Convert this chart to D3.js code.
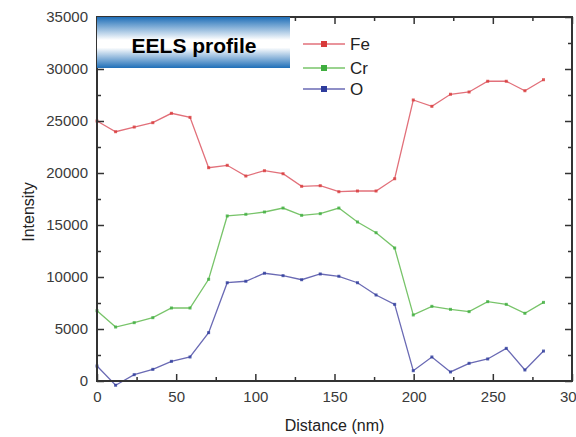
<!DOCTYPE html>
<html><head><meta charset="utf-8">
<script src="https://cdn.jsdelivr.net/npm/d3@7"></script>
<style>body{margin:0;background:#fff}svg{display:block}</style>
</head><body><svg id="c" width="576" height="437"></svg>
<script>
const distance = [0,11.75,23.5,35.25,47,58.75,70.5,82.25,94,105.75,117.5,129.25,141,152.75,164.5,176.25,188,199.75,211.5,223.25,235,246.75,258.5,270.25,282];
const fe = [25000,23970,24420,24840,25740,25350,20510,20740,19710,20220,19930,18720,18780,18200,18270,18270,19450,27020,26410,27570,27790,28820,28820,27910,28970];
const cr = [6760,5190,5610,6090,7020,7020,9780,15870,16030,16250,16630,15930,16090,16630,15290,14260,12790,6350,7180,6890,6670,7630,7370,6510,7560];
const o = [1440,-410,610,1120,1890,2310,4650,9450,9590,10360,10130,9740,10290,10070,9450,8270,7370,990,2310,870,1700,2120,3140,1060,2880];
const seriesNames = ["Fe","Cr","O"];
const xTicks = [0,50,100,150,200,250,300];
const yTicks = [0,5000,10000,15000,20000,25000,30000,35000];
const lineColors = ["#e2707a","#78c46a","#6a6ab4"];
const markColors = ["#d83a3a","#3fae3f","#2e3c9c"];

const svg = d3.select("#c");
const L=97, R=572, T=17, B=381;
const x = d3.scaleLinear().domain([0,300]).range([L,R]);
const y = d3.scaleLinear().domain([0,35000]).range([B,T]);
const data = [fe,cr,o];

const defs = svg.append("defs");
const g = defs.append("linearGradient").attr("id","tg").attr("x1",0).attr("y1",0).attr("x2",0).attr("y2",1);
g.append("stop").attr("offset","0%").attr("stop-color","#1f6fb8");
g.append("stop").attr("offset","45%").attr("stop-color","#ffffff");
g.append("stop").attr("offset","60%").attr("stop-color","#ffffff");
g.append("stop").attr("offset","100%").attr("stop-color","#1f6fb8");

const line = d3.line().x((d,i)=>x(distance[i])).y(d=>y(d));
data.forEach((s,k)=>{
  svg.append("path").attr("d",line(s)).attr("fill","none").attr("stroke",lineColors[k]).attr("stroke-width",1.3);
  svg.selectAll(null).data(s).enter().append("rect")
    .attr("x",(d,i)=>x(distance[i])-1.5).attr("y",d=>y(d)-1.5)
    .attr("width",3).attr("height",3).attr("fill",markColors[k]).attr("opacity",0.8);
});

const axCol="#333";
const bottom = d3.axisBottom(x).tickValues(xTicks).tickSize(-7).tickPadding(10).tickFormat(d3.format("d"));
const left = d3.axisLeft(y).tickValues(yTicks).tickSize(-7).tickPadding(9).tickFormat(d3.format("d"));
const minorX = d3.range(25,300,50), minorY = d3.range(2500,35000,5000);
function styleAxis(sel){
  sel.select(".domain").remove();
  sel.selectAll("line").attr("stroke",axCol).attr("stroke-width",1.5);
  sel.selectAll("text").attr("fill","#3a3a3a").style("font-family","Liberation Sans, Arial, sans-serif").style("font-size","15px");
}
svg.append("g").attr("transform",`translate(0,${B})`).call(bottom).call(styleAxis);
svg.append("g").attr("transform",`translate(${L},0)`).call(left).call(styleAxis);
svg.append("g").attr("transform",`translate(0,${B})`).call(d3.axisBottom(x).tickValues(minorX).tickSize(-4).tickFormat("")).call(styleAxis);
svg.append("g").attr("transform",`translate(${L},0)`).call(d3.axisLeft(y).tickValues(minorY).tickSize(-4).tickFormat("")).call(styleAxis);
svg.append("g").attr("transform",`translate(0,${T})`).call(d3.axisTop(x).tickValues(xTicks).tickSize(-7).tickFormat("")).call(styleAxis);
svg.append("g").attr("transform",`translate(0,${T})`).call(d3.axisTop(x).tickValues(minorX).tickSize(-4).tickFormat("")).call(styleAxis);
svg.append("g").attr("transform",`translate(${R},0)`).call(d3.axisRight(y).tickValues(yTicks).tickSize(-7).tickFormat("")).call(styleAxis);
svg.append("g").attr("transform",`translate(${R},0)`).call(d3.axisRight(y).tickValues(minorY).tickSize(-4).tickFormat("")).call(styleAxis);
svg.append("rect").attr("x",L).attr("y",T).attr("width",R-L).attr("height",B-T).attr("fill","none").attr("stroke",axCol).attr("stroke-width",2);

svg.append("rect").attr("x",L).attr("y",T).attr("width",193).attr("height",51).attr("fill","url(#tg)");
svg.append("text").attr("x",194).attr("y",53).attr("text-anchor","middle")
  .style("font-family","Liberation Sans, Arial, sans-serif").style("font-weight","bold").style("font-size","21px").attr("fill","#000").text("EELS profile");

const legY=[44,68,89];
seriesNames.forEach((n,k)=>{
  svg.append("line").attr("x1",303).attr("x2",345).attr("y1",legY[k]).attr("y2",legY[k]).attr("stroke",lineColors[k]).attr("stroke-width",1.3);
  svg.append("rect").attr("x",321).attr("y",legY[k]-3).attr("width",6).attr("height",6).attr("fill",markColors[k]);
  svg.append("text").attr("x",350).attr("y",legY[k]+6).style("font-family","Liberation Sans, Arial, sans-serif").style("font-size","17px").attr("fill","#222").text(n);
});

svg.append("text").attr("x",(L+R)/2).attr("y",431).attr("text-anchor","middle")
  .style("font-family","Liberation Sans, Arial, sans-serif").style("font-size","16px").attr("fill","#222").text("Distance (nm)");
svg.append("text").attr("transform","translate(34,212) rotate(-90)").attr("text-anchor","middle")
  .style("font-family","Liberation Sans, Arial, sans-serif").style("font-size","16px").attr("fill","#222").text("Intensity");
</script></body></html>
